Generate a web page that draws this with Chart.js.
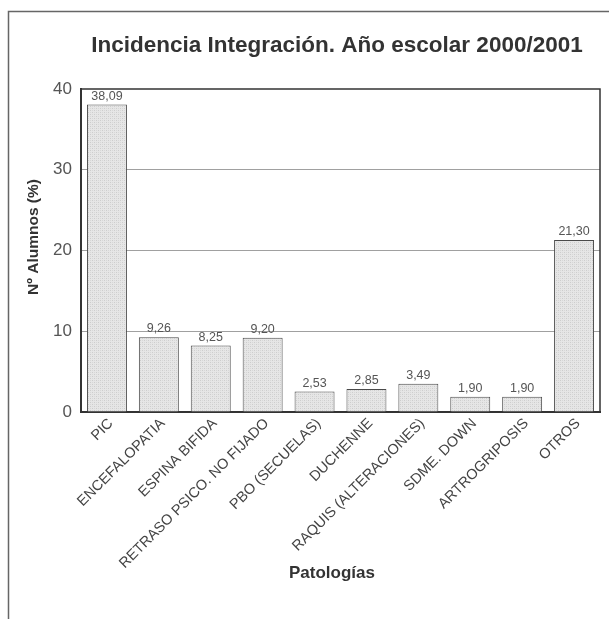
<!DOCTYPE html>
<html>
<head>
<meta charset="utf-8">
<script src="https://cdn.jsdelivr.net/npm/chart.js@4/dist/chart.umd.min.js"></script>
<style>
  html, body { margin: 0; padding: 0; background: #ffffff; }
  canvas { display: block; }
</style>
</head>
<body>
<canvas id="chart" width="609" height="619"></canvas>
<script>
// Pathologies of integrated pupils, school year 2000/2001
const categories = [
  'PIC', 'ENCEFALOPATIA', 'ESPINA BIFIDA', 'RETRASO PSICO. NO FIJADO',
  'PBO (SECUELAS)', 'DUCHENNE', 'RAQUIS (ALTERACIONES)', 'SDME. DOWN',
  'ARTROGRIPOSIS', 'OTROS'
];
const values = [38.09, 9.26, 8.25, 9.20, 2.53, 2.85, 3.49, 1.90, 1.90, 21.30];
const yTicks = [0, 10, 20, 30, 40];

const chartTitle = 'Incidencia Integración. Año escolar 2000/2001';
const yTitle = 'Nº Alumnos (%)';
const xTitle = 'Patologías';

const FONT = '"Liberation Sans", Arial, Helvetica, sans-serif';

// light stippled grey fill for the bars
function stipple() {
  const c = document.createElement('canvas');
  c.width = 4; c.height = 4;
  const g = c.getContext('2d');
  g.fillStyle = '#e6e6e6';
  g.fillRect(0, 0, 4, 4);
  g.fillStyle = '#cdcdcd';
  g.fillRect(0, 0, 1, 1);
  g.fillRect(2, 2, 1, 1);
  g.fillStyle = '#d8d8d8';
  g.fillRect(2, 0, 1, 1);
  g.fillRect(0, 2, 1, 1);
  return g.createPattern(c, 'repeat');
}

const decorations = {
  id: 'decorations',
  beforeDraw(chart) {
    const ctx = chart.ctx;
    ctx.save();
    // outer frame (top and left rule)
    ctx.strokeStyle = '#666';
    ctx.lineWidth = 1.5;
    ctx.beginPath();
    ctx.moveTo(8.5, 619);
    ctx.lineTo(8.5, 11.5);
    ctx.lineTo(609, 11.5);
    ctx.stroke();
    ctx.restore();
  },
  beforeDatasetsDraw(chart) {
    const { ctx, chartArea: a } = chart;
    ctx.save();
    ctx.strokeStyle = '#333';
    ctx.lineWidth = 1.5;
    ctx.beginPath();
    ctx.moveTo(a.left, a.top);
    ctx.lineTo(a.right, a.top);
    ctx.lineTo(a.right, a.bottom);
    ctx.stroke();
    ctx.restore();
  },
  afterDatasetsDraw(chart) {
    const ctx = chart.ctx;
    const meta = chart.getDatasetMeta(0);
    ctx.save();
    ctx.font = '12.5px ' + FONT;
    ctx.fillStyle = '#555';
    ctx.textAlign = 'center';
    ctx.textBaseline = 'bottom';
    meta.data.forEach((bar, i) => {
      const txt = values[i].toFixed(2).replace('.', ',');
      ctx.fillText(txt, bar.x, bar.y - 2);
    });
    ctx.restore();
  },
  afterDraw(chart) {
    const ctx = chart.ctx;
    ctx.save();
    ctx.fillStyle = '#333';
    ctx.textAlign = 'center';
    ctx.textBaseline = 'middle';
    ctx.font = 'bold 22.5px ' + FONT;
    ctx.fillText(chartTitle, 337, 46);
    ctx.font = 'bold 17px ' + FONT;
    ctx.fillText(xTitle, 332, 573);
    ctx.translate(34, 237);
    ctx.rotate(-Math.PI / 2);
    ctx.font = 'bold 15.5px ' + FONT;
    ctx.fillText(yTitle, 0, 0);
    ctx.restore();
  }
};

new Chart(document.getElementById('chart'), {
  type: 'bar',
  data: {
    labels: categories,
    datasets: [{
      data: values,
      backgroundColor: stipple(),
      borderColor: '#4a4a4a',
      borderWidth: 1,
      barPercentage: 0.77,
      categoryPercentage: 1.0
    }]
  },
  options: {
    responsive: false,
    animation: false,
    layout: { padding: { top: 89, right: 9, left: 0, bottom: 0 } },
    plugins: {
      legend: { display: false },
      tooltip: { enabled: false },
      title: { display: false }
    },
    scales: {
      x: {
        grid: { display: false, drawTicks: false },
        border: { display: true, color: '#333', width: 2 },
        ticks: {
          autoSkip: false,
          minRotation: 45,
          maxRotation: 45,
          padding: 3,
          labelOffset: 4,
          color: '#444',
          font: { family: FONT, size: 14.5 }
        },
        afterFit(scale) { scale.height = 207; }
      },
      y: {
        min: 0,
        max: 40,
        afterBuildTicks(scale) { scale.ticks = yTicks.map(v => ({ value: v })); },
        grid: {
          drawTicks: false,
          color: ctx => (ctx.tick && (ctx.tick.value === 0 || ctx.tick.value === 40)) ? 'rgba(0,0,0,0)' : '#a0a0a0',
          lineWidth: 1
        },
        border: { display: true, color: '#333', width: 2 },
        ticks: {
          padding: 9,
          color: '#555',
          font: { family: FONT, size: 17 }
        },
        afterFit(scale) { scale.width = 81; }
      }
    }
  },
  plugins: [decorations]
});
</script>
</body>
</html>
